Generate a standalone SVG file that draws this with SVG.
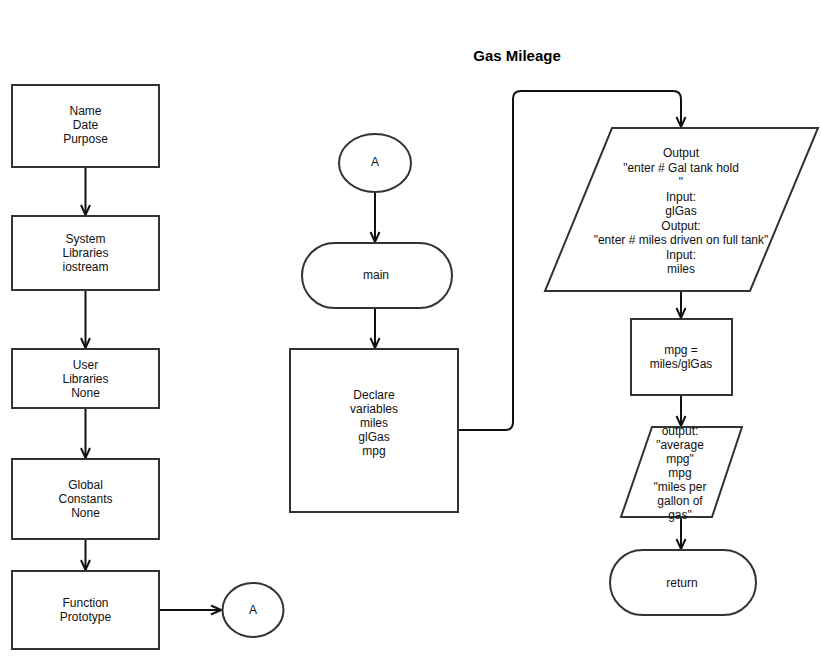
<svg xmlns="http://www.w3.org/2000/svg" width="821" height="668" viewBox="0 0 821 668">
<style>
.s{fill:#fff;stroke:#333;stroke-width:2}
.t{font-family:"Liberation Sans",Arial,sans-serif;font-size:12px;fill:#111;text-anchor:middle;dominant-baseline:central}
.c{fill:none;stroke:#111;stroke-width:2;marker-end:url(#ah)}
.title{font-family:"Liberation Sans",Arial,sans-serif;font-size:15px;font-weight:bold;fill:#000;text-anchor:middle;dominant-baseline:central}
</style>
<defs>
<marker id="ah" viewBox="0 0 12 12" refX="11" refY="6" markerWidth="12" markerHeight="12" markerUnits="userSpaceOnUse" orient="auto">
<path d="M1,1.5 L11,6 L1,10.5" fill="none" stroke="#111" stroke-width="2"/>
</marker>
</defs>
<rect width="821" height="668" fill="#fff"/>
<text class="title" x="517" y="55">Gas Mileage</text>
<g id="connectors">
<path class="c" d="M85.5,167 V215"/>
<path class="c" d="M85.5,290 V348"/>
<path class="c" d="M85.5,408 V458"/>
<path class="c" d="M85.5,539 V570"/>
<path class="c" d="M159,610 H221"/>
<path class="c" d="M375,192 V242"/>
<path class="c" d="M375,308 V348"/>
<path class="c" d="M458,430 H505 Q513,430 513,422 V99 Q513,91 521,91 H673 Q681,91 681,99 V127"/>
<path class="c" d="M681,291 V318"/>
<path class="c" d="M681,395 V426"/>
<path class="c" d="M681,517 V549"/>
</g>
<g id="n1"><rect class="s" x="12" y="85" width="147" height="82"/>
<text class="t" x="85.5" y="111">Name</text><text class="t" x="85.5" y="125">Date</text><text class="t" x="85.5" y="139">Purpose</text></g>
<g id="n2"><rect class="s" x="12" y="216" width="147" height="74"/>
<text class="t" x="85.5" y="239">System</text><text class="t" x="85.5" y="253">Libraries</text><text class="t" x="85.5" y="267">iostream</text></g>
<g id="n3"><rect class="s" x="12" y="349" width="147" height="59"/>
<text class="t" x="85.5" y="365">User</text><text class="t" x="85.5" y="379">Libraries</text><text class="t" x="85.5" y="393">None</text></g>
<g id="n4"><rect class="s" x="12" y="459" width="147" height="80"/>
<text class="t" x="85.5" y="485">Global</text><text class="t" x="85.5" y="499">Constants</text><text class="t" x="85.5" y="513">None</text></g>
<g id="n5"><rect class="s" x="12" y="571" width="147" height="78"/>
<text class="t" x="85.5" y="603">Function</text><text class="t" x="85.5" y="617">Prototype</text></g>
<g id="a1"><ellipse class="s" cx="253" cy="610" rx="30.5" ry="27"/><text class="t" x="253" y="610">A</text></g>
<g id="a2"><ellipse class="s" cx="375" cy="163" rx="36" ry="29"/><text class="t" x="375" y="162">A</text></g>
<g id="main"><rect class="s" x="302" y="243" width="150" height="65" rx="32.5" ry="32.5"/><text class="t" x="376" y="275">main</text></g>
<g id="declare"><rect class="s" x="290" y="349" width="168" height="163"/>
<text class="t" x="374" y="395">Declare</text><text class="t" x="374" y="409">variables</text><text class="t" x="374" y="423">miles</text><text class="t" x="374" y="437">glGas</text><text class="t" x="374" y="451">mpg</text></g>
<g id="io1"><polygon class="s" points="612,128 818,128 750,291 545,291"/>
<text class="t" x="681" y="153">Output</text>
<text class="t" x="681" y="168">"enter # Gal tank hold</text>
<text class="t" x="681" y="182">"</text>
<text class="t" x="681" y="197">Input:</text>
<text class="t" x="681" y="211">glGas</text>
<text class="t" x="681" y="226">Output:</text>
<text class="t" x="681" y="240">"enter # miles driven on full tank"</text>
<text class="t" x="681" y="255">Input:</text>
<text class="t" x="681" y="269">miles</text></g>
<g id="calc"><rect class="s" x="631" y="319" width="101" height="76"/>
<text class="t" x="681" y="350">mpg =</text><text class="t" x="681" y="364">miles/glGas</text></g>
<g id="io2"><polygon class="s" points="652,427 742,427 712,517 621,517"/>
<text class="t" x="680" y="431">output:</text>
<text class="t" x="680" y="445">"average</text>
<text class="t" x="680" y="459">mpg"</text>
<text class="t" x="680" y="473">mpg</text>
<text class="t" x="680" y="487">"miles per</text>
<text class="t" x="680" y="501">gallon of</text>
<text class="t" x="680" y="515">gas"</text></g>
<g id="ret"><rect class="s" x="610" y="550" width="146" height="65" rx="32.5" ry="32.5"/><text class="t" x="682" y="583">return</text></g>
</svg>
